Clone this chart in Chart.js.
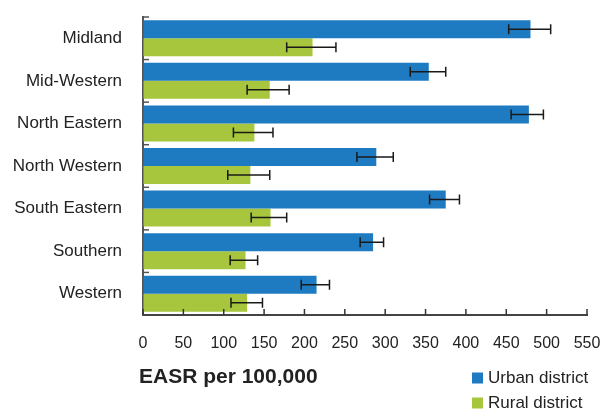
<!DOCTYPE html>
<html>
<head>
<meta charset="utf-8">
<script src="https://cdn.jsdelivr.net/npm/chart.js@4"></script>
<style>
  html, body { margin: 0; padding: 0; background: #fff; }
  #wrap { width: 601px; height: 411px; }
</style>
</head>
<body>
<div id="wrap"><canvas id="c" width="601" height="411"></canvas></div>
<script>
// Regions and age-standardised rates (EASR per 100,000) with confidence limits
const regions = ['Midland', 'Mid-Western', 'North Eastern', 'North Western', 'South Eastern', 'Southern', 'Western'];
const urbanRate = [480, 354, 478, 289, 375, 285, 215];
const urbanLow  = [453, 331, 456, 265, 355, 269, 196];
const urbanHigh = [505, 375, 496, 310, 392, 298, 231];
const ruralRate = [210, 157, 138, 133, 158, 127, 129];
const ruralLow  = [178, 129, 112, 105, 134, 108, 109];
const ruralHigh = [239, 181, 161, 157, 178, 142, 148];
const seriesNames = ['Urban district', 'Rural district'];
const axisTitle = 'EASR per 100,000';
const xMax = 550;
const xStep = 50;

const FONT = "'Liberation Sans', Arial, Helvetica, sans-serif";
const TEXT = '#222222';

// Inward tick marks, error bars, axis title and a stacked legend
const extras = {
  id: 'extras',
  afterDatasetsDraw(chart) {
    const ctx = chart.ctx;
    const xs = chart.scales.x;
    ctx.save();
    // error bars
    ctx.strokeStyle = '#1a1a1a';
    ctx.lineWidth = 1.5;
    chart.data.datasets.forEach((ds, di) => {
      const meta = chart.getDatasetMeta(di);
      meta.data.forEach((bar, i) => {
        const x1 = xs.getPixelForValue(ds.errLow[i]);
        const x2 = xs.getPixelForValue(ds.errHigh[i]);
        const y = bar.y;
        ctx.beginPath();
        ctx.moveTo(x1, y); ctx.lineTo(x2, y);
        ctx.moveTo(x1, y - 5); ctx.lineTo(x1, y + 5);
        ctx.moveTo(x2, y - 5); ctx.lineTo(x2, y + 5);
        ctx.stroke();
      });
    });
    ctx.restore();
  },
  afterDraw(chart) {
    const ctx = chart.ctx;
    const xs = chart.scales.x, ys = chart.scales.y;
    const area = chart.chartArea;
    ctx.save();
    // category boundary ticks on the y axis, pointing into the plot
    ctx.strokeStyle = '#555555';
    ctx.lineWidth = 1.5;
    const n = chart.data.labels.length;
    for (let i = 0; i < n; i++) {
      const y = ys.top + i * (ys.height / n);
      ctx.beginPath();
      ctx.moveTo(area.left, y); ctx.lineTo(area.left + 6, y);
      ctx.stroke();
    }
    // value ticks on the x axis, pointing up
    ctx.strokeStyle = '#333333';
    xs.ticks.forEach(t => {
      const x = xs.getPixelForValue(t.value);
      ctx.beginPath();
      ctx.moveTo(x, area.bottom); ctx.lineTo(x, area.bottom - 6);
      ctx.stroke();
    });
    // axis title
    ctx.fillStyle = TEXT;
    ctx.font = 'bold 21px ' + FONT;
    ctx.textAlign = 'left';
    ctx.textBaseline = 'middle';
    ctx.fillText(axisTitle, 139, 377);
    // legend
    ctx.font = '17px ' + FONT;
    chart.data.datasets.forEach((ds, di) => {
      const y = 378 + di * 25;
      ctx.fillStyle = ds.backgroundColor;
      ctx.fillRect(472, y - 5.5, 11, 11);
      ctx.fillStyle = TEXT;
      ctx.fillText(ds.label, 488, y);
    });
    ctx.restore();
  }
};

new Chart(document.getElementById('c'), {
  type: 'bar',
  data: {
    labels: regions,
    datasets: [
      { label: seriesNames[0], data: urbanRate, errLow: urbanLow, errHigh: urbanHigh,
        backgroundColor: '#1f7bc1', borderWidth: 0 },
      { label: seriesNames[1], data: ruralRate, errLow: ruralLow, errHigh: ruralHigh,
        backgroundColor: '#a7c63d', borderWidth: 0 }
    ]
  },
  options: {
    indexAxis: 'y',
    responsive: false,
    animation: false,
    devicePixelRatio: 1,
    layout: { padding: { top: 17, right: 14, left: 0, bottom: 0 } },
    datasets: { bar: { categoryPercentage: 0.845, barPercentage: 1 } },
    plugins: { legend: { display: false }, tooltip: { enabled: false } },
    scales: {
      x: {
        min: 0, max: xMax, z: 1,
        ticks: { stepSize: xStep, color: TEXT, padding: 19, font: { family: FONT, size: 16 }, maxRotation: 0 },
        grid: { drawOnChartArea: false, drawTicks: false },
        border: { color: '#444444', width: 2 },
        afterFit(s) { s.height = 96; s.paddingLeft = 0; s.paddingRight = 0; }
      },
      y: {
        z: 1,
        ticks: { color: TEXT, padding: 21, font: { family: FONT, size: 17 } },
        grid: { drawOnChartArea: false, drawTicks: false },
        border: { color: '#555555', width: 2 },
        afterFit(s) { s.width = 143; s.paddingTop = 0; s.paddingBottom = 0; }
      }
    }
  },
  plugins: [extras]
});
</script>
</body>
</html>
